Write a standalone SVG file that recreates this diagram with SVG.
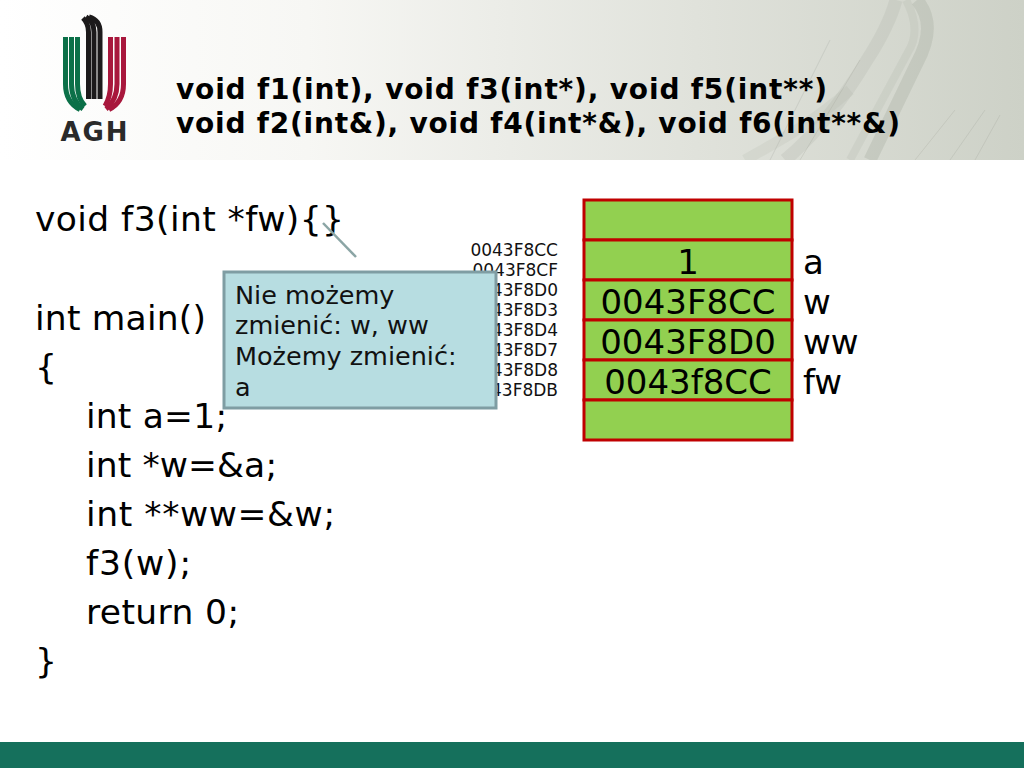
<svg xmlns="http://www.w3.org/2000/svg" width="1024" height="768" viewBox="0 0 1024 768">
<style>
text{font-family:"DejaVu Sans",Verdana,sans-serif;fill:#000}
.h{font-size:28px;font-weight:bold}
.c{font-size:34.500px}
.m{font-size:17px;text-anchor:end;fill:#111}
.n{font-size:25.500px;fill:#111}
.v{font-size:34px;text-anchor:middle}
.l{font-size:34px}
.cell{fill:#92d050;stroke:#c00000;stroke-width:3}
.sw{fill:none;stroke:#a4aa9e}
</style>
<defs>
<linearGradient id="bg" x1="0" x2="1" y1="0" y2="0"><stop offset="0" stop-color="#fff"/><stop offset=".3" stop-color="#f7f7f4"/><stop offset=".68" stop-color="#e0e2db"/><stop offset="1" stop-color="#cdd1c7"/></linearGradient>
<clipPath id="hc"><rect width="1024" height="160"/></clipPath>
</defs>
<rect width="1024" height="768" fill="#fff"/>
<g id="header" clip-path="url(#hc)">
<rect width="1024" height="160" fill="url(#bg)"/>
<path class="sw" stroke-width="13" opacity=".32" d="M917 0C931 17 931 37 917 63L870 160"/>
<path class="sw" stroke-width="8" opacity=".18" d="M906 0C918 22 916 40 908 52L850 160"/>
<path class="sw" stroke-width="13" opacity=".2" d="M896 0C890 22 880 40 867 60C840 105 815 135 785 160"/>
<path class="sw" stroke-width="11" opacity=".14" d="M850 90C810 125 780 140 745 160"/>
<path class="sw" stroke-width="1" opacity=".3" d="M830 40L770 160M860 60L800 160M955 110L915 160M985 110L950 160M1000 115L975 160"/>
</g>
<g id="logo" fill="none" stroke-width="5">
<g stroke="#0b7048">
<path d="M65.500 37V84C65.500 98 71 105 80 109.500"/>
<path d="M71.500 37V84C71.500 96 76 104 83 109"/>
<path d="M77.500 37V84C77.500 94 80 101 85 106"/>
</g>
<g stroke="#1c1a1b">
<path d="M88.500 99V32C88.500 25 86 21 83 18"/>
<path d="M94 99V32C94 25 91 20 86 17"/>
<path d="M100 99V32C100 24 96 19 89 17"/>
</g>
<g stroke="#a8173c">
<path d="M110.500 37V84C110.500 94 108 101 105 106"/>
<path d="M117 37V84C117 96 112 104 106 109"/>
<path d="M123.500 37V84C123.500 98 118 105 109 109.500"/>
</g>
<text x="95" y="141" text-anchor="middle" style="font-size:26px;font-weight:bold;fill:#2a2a2a;font-family:'DejaVu Sans',sans-serif;letter-spacing:2px">AGH</text>
</g>
<g id="title">
<text class="h" x="176" y="99" textLength="651">void f1(int), void f3(int*), void f5(int**)</text>
<text class="h" x="176" y="133" textLength="724">void f2(int&amp;), void f4(int*&amp;), void f6(int**&amp;)</text>
</g>
<g id="code">
<text class="c" x="35" y="231" textLength="309">void f3(int *fw){}</text>
<text class="c" x="35" y="330" textLength="171">int main()</text>
<text class="c" x="35" y="379">{</text>
<text class="c" x="86" y="428" textLength="141">int a=1;</text>
<text class="c" x="86" y="477" textLength="191">int *w=&amp;a;</text>
<text class="c" x="86" y="526" textLength="249">int **ww=&amp;w;</text>
<text class="c" x="86" y="575" textLength="105">f3(w);</text>
<text class="c" x="86" y="624" textLength="153">return 0;</text>
<text class="c" x="35" y="673">}</text>
</g>
<g id="addresses">
<text class="m" x="558" y="256">0043F8CC</text>
<text class="m" x="558" y="276">0043F8CF</text>
<text class="m" x="558" y="296">0043F8D0</text>
<text class="m" x="558" y="316">0043F8D3</text>
<text class="m" x="558" y="336">0043F8D4</text>
<text class="m" x="558" y="356">0043F8D7</text>
<text class="m" x="558" y="376">0043F8D8</text>
<text class="m" x="558" y="396">0043F8DB</text>
</g>
<g id="memory">
<rect class="cell" x="584" y="200" width="208" height="40"/>
<rect class="cell" x="584" y="240" width="208" height="40"/>
<rect class="cell" x="584" y="280" width="208" height="40"/>
<rect class="cell" x="584" y="320" width="208" height="40"/>
<rect class="cell" x="584" y="360" width="208" height="40"/>
<rect class="cell" x="584" y="400" width="208" height="40"/>
<text class="v" x="688" y="274">1</text>
<text class="v" x="688" y="314">0043F8CC</text>
<text class="v" x="688" y="354">0043F8D0</text>
<text class="v" x="688" y="394">0043f8CC</text>
</g>
<g id="labels">
<text class="l" x="803" y="274">a</text>
<text class="l" x="803" y="314">w</text>
<text class="l" x="803" y="354">ww</text>
<text class="l" x="803" y="394">fw</text>
</g>
<g id="callout">
<rect x="224" y="272" width="272" height="136" fill="#b7dde1" stroke="#7f9da3" stroke-width="3"/>
<text class="n" x="235" y="304">Nie możemy</text>
<text class="n" x="235" y="334">zmienić: w, ww</text>
<text class="n" x="235" y="365">Możemy zmienić:</text>
<text class="n" x="235" y="396">a</text>
</g>
<g id="connectors">
<path d="M323 223L356 257" fill="none" stroke="#8ba5a5" stroke-width="2.500"/>
</g>
<rect id="footer" y="742" width="1024" height="26" fill="#15705c"/>
</svg>
